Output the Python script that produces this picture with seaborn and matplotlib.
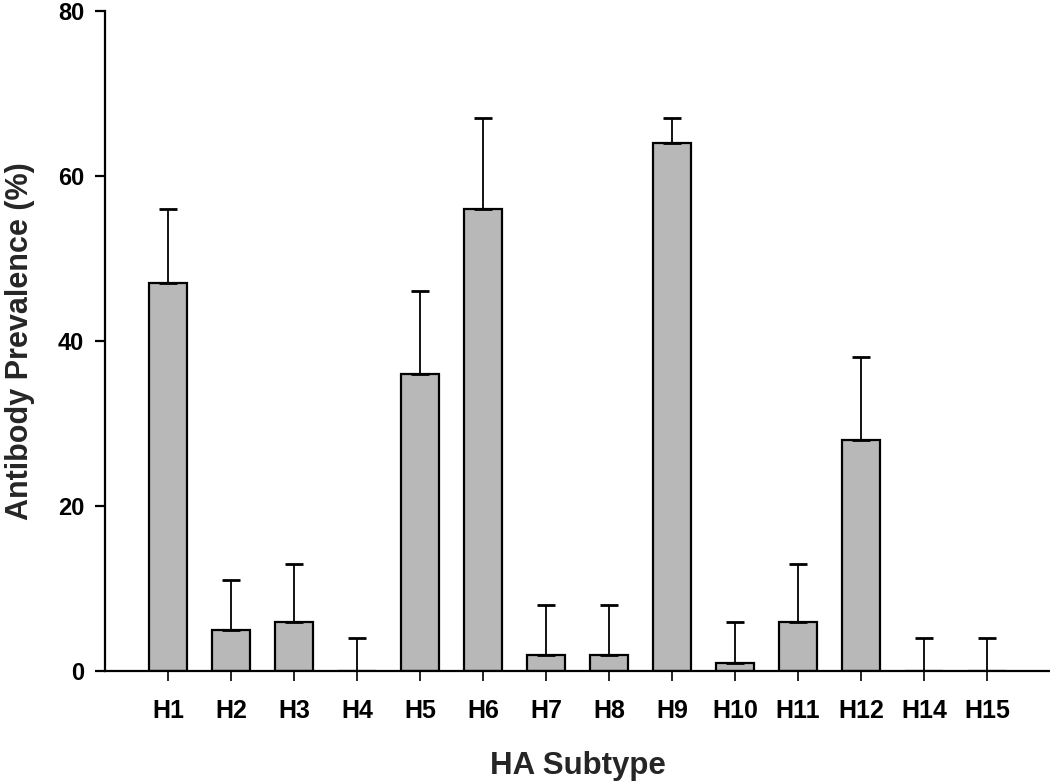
import numpy as np
import pandas as pd
import matplotlib
matplotlib.use("Agg")
import matplotlib.pyplot as plt
import seaborn as sns

# Valores
subtipos = ["H1", "H2", "H3", "H4", "H5", "H6", "H7", "H8", "H9", "H10", "H11", "H12", "H14", "H15"]
prevalencia = [47, 5, 6, 0, 36, 56, 2, 2, 64, 1, 6, 28, 0, 0]
limite_sup = [56, 11, 13, 4, 46, 67, 8, 8, 67, 6, 13, 38, 4, 4]

df = pd.DataFrame({"subtipo": subtipos, "prev": prevalencia, "sup": limite_sup})

sns.set_style("ticks")
plt.rcParams["font.family"] = ["Liberation Sans", "DejaVu Sans"]
plt.rcParams["font.weight"] = "bold"

fig = plt.figure(figsize=(10.5, 7.83), dpi=100)
ax = fig.add_axes([0.1, 0.143, 0.9, 0.843])

sns.barplot(data=df, x="subtipo", y="prev", order=subtipos, color="#b8b8b8",
            saturation=1, width=0.6, edgecolor="black", linewidth=1.6,
            errorbar=None, ax=ax)

# Barras de erro só para cima
yerr = [np.zeros(len(df)), df["sup"] - df["prev"]]
ax.errorbar(np.arange(len(df)), df["prev"], yerr=yerr, fmt="none",
            ecolor="black", elinewidth=1.3, capsize=6.5, capthick=2, zorder=1)

ax.set_xlim(-1, 14)
ax.set_ylim(0, 80)
ax.set_yticks([0, 20, 40, 60, 80])

for s in ["top", "right"]:
    ax.spines[s].set_visible(False)
for s in ["left", "bottom"]:
    ax.spines[s].set_linewidth(1.6)
    ax.spines[s].set_color("black")

ax.tick_params(axis="y", length=7, width=1.6, pad=8, labelsize=17, colors="black")
ax.tick_params(axis="x", length=7, width=1.2, pad=13, labelsize=18, colors="black")
for lbl in ax.get_xticklabels() + ax.get_yticklabels():
    lbl.set_fontweight("bold")

ax.set_xlabel("HA Subtype", fontsize=22.5, fontweight="bold", labelpad=20)
ax.set_ylabel("Antibody Prevalence (%)", fontsize=22, fontweight="bold")
ax.yaxis.set_label_coords(-0.074, 0.5)

fig.savefig("out.png", dpi=100)
